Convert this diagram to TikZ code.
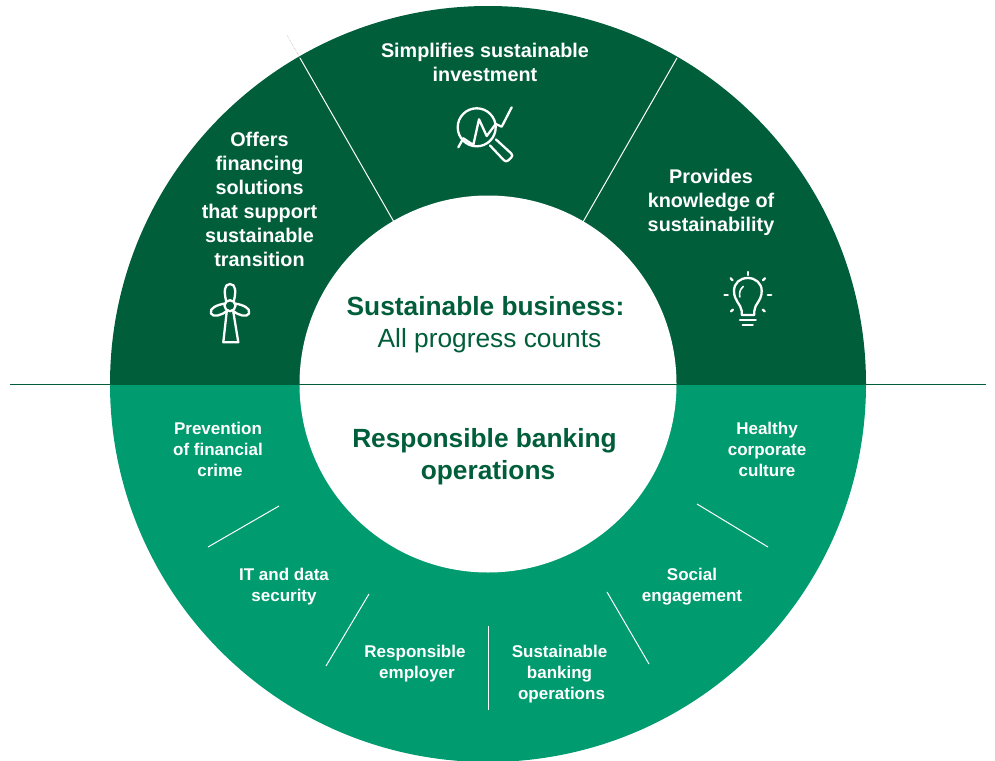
\documentclass[tikz,border=0pt]{standalone}
\usepackage{fontspec}
\setmainfont{Liberation Sans}
\definecolor{darkgr}{HTML}{005E3A}
\definecolor{lightgr}{HTML}{009B6E}
\tikzset{
    toplabel/.style={text=white, font=\fontsize{19.8}{24}\selectfont\bfseries, align=center, inner sep=0pt},
    lowlabel/.style={text=white, font=\fontsize{17}{21}\selectfont\bfseries, align=center, inner sep=0pt},
    midlabel/.style={text=darkgr, font=\fontsize{26.3}{32}\selectfont, align=center, inner sep=0pt},
    divider/.style={white, line width=1pt},
    iconline/.style={white, line width=2.3pt, line join=round, line cap=round},
}
\begin{document}
\begin{tikzpicture}[x=1pt, y=-1pt]
    \useasboundingbox (0,0) rectangle (995,760);
    \coordinate (c) at (488,384);
    \begin{scope}
        \clip (0,0) rectangle (995,384);
        \fill[darkgr] (c) circle[radius=378];
    \end{scope}
    \begin{scope}
        \clip (0,384) rectangle (995,760);
        \fill[lightgr] (c) circle[radius=378];
    \end{scope}
    \fill[white] (c) circle[radius=188.5];

    \coordinate (rulew) at (10,384);
    \coordinate (rulee) at (986,384);
    \draw[darkgr, line width=1pt] (rulew) -- (rulee);

    \coordinate (tla) at (287,35);
    \coordinate (tlb) at (300,58);
    \coordinate (tlc) at (394,222);
    \coordinate (tra) at (677,58);
    \coordinate (trb) at (583,222);
    \draw[black!35, densely dotted, line width=0.5pt] (tla) -- (tlb);
    \draw[divider] (tlb) -- (tlc);
    \draw[divider] (tra) -- (trb);

    \coordinate (l1a) at (208,547);
    \coordinate (l1b) at (279,506);
    \coordinate (l2a) at (326,666);
    \coordinate (l2b) at (369,594);
    \coordinate (l3a) at (488.5,710);
    \coordinate (l3b) at (488.5,626);
    \coordinate (l4a) at (607,592);
    \coordinate (l4b) at (649,664);
    \coordinate (l5a) at (697,504);
    \coordinate (l5b) at (768,547);
    \draw[divider] (l1a) -- (l1b);
    \draw[divider] (l2a) -- (l2b);
    \draw[divider] (l3a) -- (l3b);
    \draw[divider] (l4a) -- (l4b);
    \draw[divider] (l5a) -- (l5b);

    \node[toplabel] (invest) at (485,62) {Simplifies sustainable\\investment};
    \node[toplabel] (finance) at (259.5,199) {Offers\\financing\\solutions\\that support\\sustainable\\transition};
    \node[toplabel] (knowledge) at (711,202.5) {Provides\\knowledge of\\sustainability};

    \node[midlabel] (business) at (485.5,325) {\textbf{Sustainable business:}\\\hspace*{8pt}All progress counts};
    \node[midlabel] (banking) at (484.5,457) {\textbf{Responsible banking}\\\hspace*{7pt}\textbf{operations}};

    \node[lowlabel] (crime) at (218,449) {Prevention\\of financial\\\hspace*{4pt}crime};
    \node[lowlabel] (culture) at (767,449) {Healthy\\corporate\\culture};
    \node[lowlabel] (security) at (284,587) {IT and data\\security};
    \node[lowlabel] (social) at (692,587) {Social\\engagement};
    \node[lowlabel] (employer) at (415,664) {Responsible\\\hspace*{4pt}employer};
    \node[lowlabel] (sustops) at (559.5,674) {Sustainable\\banking\\\hspace*{4pt}operations};

    % magnifier
    \draw[iconline] (476.7,127.3) circle[radius=19];
    \draw[iconline, rounded corners=3pt] (490,145.5) -- (506,162.5) -- (513.5,155.5) -- (496,139.5);
    \draw[iconline] (458.3,147.3) -- (463.3,138.3) -- (473.3,145) -- (479,119.3) -- (486.7,136) -- (495.7,124) -- (501.7,126.7) -- (511.7,107.3);

    % turbine
    \draw[iconline] (230,305.7) circle[radius=5.5];
    \draw[iconline] (226,300.5) .. controls (224,292) and (224,284) .. (230,284) .. controls (236,284) and (236,292) .. (234,300.5);
    \draw[iconline] (224.7,303.5) .. controls (217,305) and (209,308) .. (211,313.5) .. controls (213,318) and (222,315) .. (227,311);
    \draw[iconline] (235.3,303.5) .. controls (243,305) and (251,308) .. (249,313.5) .. controls (247,318) and (238,315) .. (233,311);
    \draw[iconline] (226.7,311.7) -- (223.3,342.3) -- (238.3,342.3) -- (233.3,311.7);

    % bulb
    \draw[iconline] (741.7,315) -- (741.7,311) .. controls (741,304) and (734,301) .. (734,291) .. controls (734,283) and (740,278) .. (747.7,278) .. controls (755.4,278) and (761.7,283) .. (761.7,291) .. controls (761.7,301) and (754.5,304) .. (754.3,311) -- (754.3,315) -- cycle;
    \draw[iconline, line width=1.6pt] (739.8,297) .. controls (739,293) and (740,289) .. (743.3,286.5);
    \draw[iconline] (740,320) -- (755.7,320);
    \draw[iconline] (742.7,325) -- (752.7,325);
    \draw[iconline] (747.7,272) -- (747.7,275);
    \draw[iconline] (730.7,278.3) -- (732.5,280.2);
    \draw[iconline] (765,278.3) -- (763,280.2);
    \draw[iconline] (724.5,295) -- (727.8,295);
    \draw[iconline] (767.8,295) -- (771.2,295);
    \draw[iconline] (731,311.4) -- (733,309.6);
    \draw[iconline] (764.7,311.4) -- (762.7,309.6);
\end{tikzpicture}
\end{document}
